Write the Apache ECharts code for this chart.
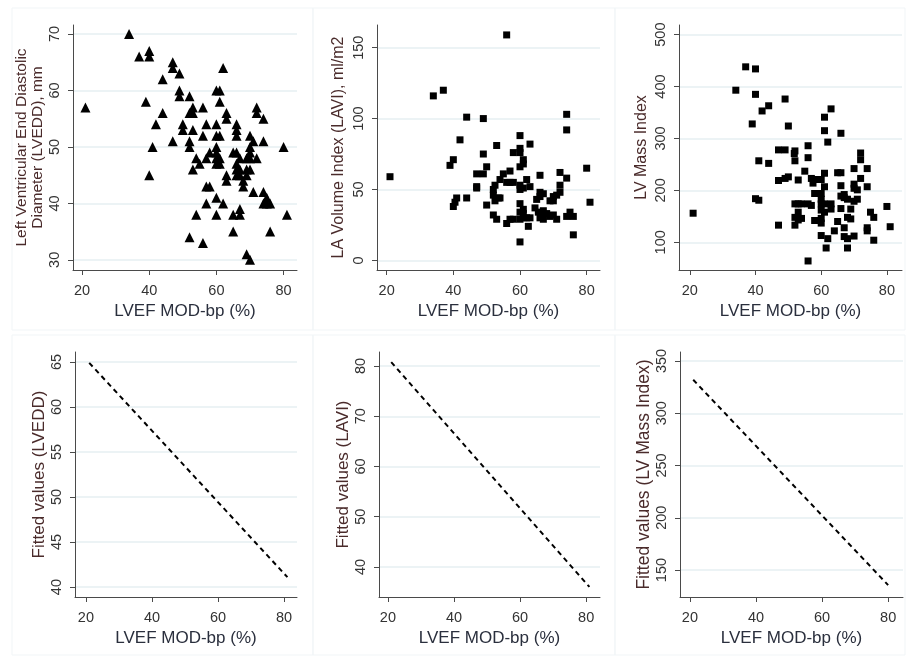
<!DOCTYPE html>
<html>
<head>
<meta charset="utf-8">
<script src="https://cdn.jsdelivr.net/npm/echarts@6/dist/echarts.min.js"></script>
<style>
  html, body { margin: 0; padding: 0; background: #fff; }
  #chart { width: 908px; height: 658px; }
</style>
</head>
<body>
<div id="chart"></div>
<script>
// LVEF (x) vs LVEDD
var lvefA = [34, 37, 40, 40, 39, 44, 42, 44, 41, 40, 47, 47, 49, 49, 49, 50, 50, 47, 52, 52, 53, 53, 52, 52, 53, 56, 56, 57, 54, 55, 53, 58, 57, 57, 58, 57, 54, 52, 56, 60, 60, 61, 60, 60, 60, 60, 61, 61, 60, 61, 61, 62, 60, 62, 60, 63, 63, 63, 63, 65, 65, 66, 66, 66, 65, 66, 66, 66, 66, 67, 67, 67, 68, 67, 67, 69, 69, 68, 69, 70, 70, 70, 69, 70, 70, 70, 72, 72, 71, 72, 71, 74, 74, 74, 75, 75, 74, 76, 76, 80, 81, 21]
var lvedd = [70, 66, 67, 66, 58, 62, 54, 56, 50, 45, 65, 64, 63, 60, 59, 54, 53, 51, 59, 56, 57, 56, 51, 50, 53, 57, 52, 54, 48, 47, 46, 49, 48, 43, 43, 40, 38, 34, 33, 54, 52, 52, 50, 49, 48, 47, 48, 47, 60, 60, 58, 64, 41, 40, 38, 55, 56, 45, 44, 35, 38, 54, 53, 52, 49, 49, 47, 46, 45, 48, 46, 45, 44, 39, 38, 45, 46, 43, 31, 30, 50, 49, 48, 48, 52, 46, 57, 56, 51, 48, 42, 55, 51, 42, 41, 40, 40, 40, 35, 50, 38, 57]

// LVEF (x) vs LAVI
var lvefB = [21, 34, 37, 44, 49, 56, 42, 60, 74, 74, 53, 63, 60, 60, 58, 49, 61, 61, 40, 39, 50, 60, 47, 49, 55, 57, 66, 72, 74, 80, 54, 52.5, 52, 56, 57, 58, 62, 60, 60, 61, 63, 66, 67, 66, 65, 70, 71, 72, 69, 70, 47, 47, 52, 52.5, 53.5, 54, 44, 41, 40.5, 40, 50, 60, 81, 52, 53, 56, 57, 58, 60, 60, 61, 62, 63, 61, 62.5, 60, 64.5, 65.5, 67, 67, 68, 69, 70, 71, 75, 76, 74, 76, 66, 67, 72, 61]
var lavi = [59, 116, 120, 101, 100, 159, 85, 88, 92, 103, 81, 82, 79, 76, 76, 75, 71, 68, 71, 67, 66, 66, 61, 61, 61, 63, 60, 62, 58, 65, 57, 53, 50, 55, 55, 55, 57, 53, 50, 51, 52, 48, 47, 45, 43, 45, 46, 48, 42, 42, 51, 52, 46, 42, 44, 44, 44, 44, 41, 38, 39, 40, 41, 32, 29, 26, 29, 29, 34, 29, 30, 30, 30, 36, 24, 13, 37, 34, 35, 31, 33, 31, 32, 29, 34, 31, 31, 18, 30, 29, 53, 33]

// LVEF (x) vs LV mass index
var lvefC = [21, 34, 37, 40, 40, 39, 42, 44, 49, 50, 40, 41, 41, 44, 47, 49, 47, 49, 50, 47, 52, 52, 53, 55, 56, 56, 52, 53, 54, 53, 54, 53, 52, 52, 56, 57, 57, 57.5, 58, 58, 58, 56, 60, 61, 60, 60, 60, 61, 61, 60, 60, 60, 61, 60, 61, 61, 62, 63, 63, 63, 61.5, 62, 65, 66, 66, 66, 66, 67, 67, 68, 66, 65, 64, 67, 67, 68, 68, 69, 69, 68, 70, 70, 70, 71, 71, 70, 70, 72, 72, 72, 74, 74, 74, 74, 75, 76, 76, 80, 81, 51.8]
var lvmi = [156, 393, 438, 434, 385, 328, 353, 363, 376, 324, 184, 181, 257, 252, 278, 278, 219, 223, 226, 133, 276, 257, 220, 237, 286, 263, 174, 174, 174, 158, 146, 143, 133, 148, 174, 171, 223, 214, 221, 194, 142, 64, 221, 233, 194, 183, 174, 174, 207, 162, 146, 137, 158, 113, 341, 315, 293, 357, 174, 164, 89, 107, 234, 234, 310, 209, 189, 192, 186, 183, 165, 140, 122, 128, 111, 107, 148, 145, 164, 89, 242, 212, 204, 201, 183, 179, 112, 272, 259, 223, 242, 207, 128, 122, 158, 148, 104, 169, 130, 271]

// linear fits (end points)
var fitXA = [21, 81]
var fitLvedd = [64.9, 41.1]
var fitXB = [21, 81]
var fitLavi = [80.8, 36.0]
var fitXC = [21, 80]
var fitLvmi = [332, 135.6]

// tick labels
var xTicks = [20, 40, 60, 80]
var yTicksLvedd = [30, 40, 50, 60, 70]
var yTicksLavi = [0, 50, 100, 150]
var yTicksLvmi = [100, 200, 300, 400, 500]
var yTicksFitLvedd = [40, 45, 50, 55, 60, 65]
var yTicksFitLavi = [40, 50, 60, 70, 80]
var yTicksFitLvmi = [150, 200, 250, 300, 350]

var xTitle = 'LVEF MOD-bp (%)'
var FONT = '"Liberation Sans", Arial, sans-serif'

function zip (xs, ys) {
  return xs.map(function (x, i) { return [x, ys[i]] })
}

var panels = [
  { grid: { left: 73, top: 25, width: 224, height: 245 }, x: [17.3, 84], y: [28.2, 71.6], yTicks: yTicksLvedd,
    yName: 'Left Ventricular End Diastolic\nDiameter (LVEDD), mm', yNameSize: 15.5, yGap: 16 },
  { grid: { left: 377, top: 25, width: 223, height: 245 }, x: [17.1, 84], y: [-6.8, 166], yTicks: yTicksLavi,
    yName: 'LA Volume Index (LAVI), ml/m2', yNameSize: 16, yGap: 30 },
  { grid: { left: 679, top: 25, width: 223, height: 245 }, x: [16.7, 84.6], y: [46.6, 518.6], yTicks: yTicksLvmi,
    yName: 'LV Mass Index', yNameSize: 16, yGap: 29 },
  { grid: { left: 75, top: 352, width: 222, height: 245 }, x: [16.7, 83.9], y: [38.9, 66.1], yTicks: yTicksFitLvedd,
    yName: 'Fitted values (LVEDD)', yNameSize: 17, yGap: 25 },
  { grid: { left: 379, top: 352, width: 221, height: 245 }, x: [17.3, 84.2], y: [34.0, 82.8], yTicks: yTicksFitLavi,
    yName: 'Fitted values (LAVI)', yNameSize: 17, yGap: 25 },
  { grid: { left: 680, top: 352, width: 223, height: 245 }, x: [17, 84.5], y: [124.2, 358.6], yTicks: yTicksFitLvmi,
    yName: 'Fitted values (LV Mass Index)', yNameSize: 17.5, yGap: 19 }
]

var axisLine = { show: true, onZero: false, lineStyle: { color: '#4a4a4a', width: 1 } }
var axisTick = { show: true, length: 5, lineStyle: { color: '#4a4a4a' } }

var grids = []
var xAxes = []
var yAxes = []
panels.forEach(function (p, i) {
  grids.push(Object.assign({ containLabel: false }, p.grid))
  xAxes.push({
    type: 'value', gridIndex: i, min: p.x[0], max: p.x[1],
    axisLine: axisLine,
    axisTick: Object.assign({ customValues: xTicks }, axisTick),
    axisLabel: { customValues: xTicks, margin: 13, fontSize: 14.5, color: '#333', fontFamily: FONT },
    splitLine: { show: false },
    name: xTitle, nameLocation: 'middle', nameGap: 33,
    nameTextStyle: { fontSize: 17, color: '#2a2f3d', fontFamily: FONT }
  })
  yAxes.push({
    type: 'value', gridIndex: i, min: p.y[0], max: p.y[1],
    axisLine: axisLine,
    axisTick: Object.assign({ customValues: p.yTicks }, axisTick),
    axisLabel: { customValues: p.yTicks, rotate: 90, margin: 11, fontSize: 14.5, color: '#333', fontFamily: FONT },
    splitLine: { show: true, lineStyle: { color: '#e6eff2', width: 1.5 } },
    name: p.yName, nameLocation: 'middle', nameGap: p.yGap,
    nameTextStyle: { fontSize: p.yNameSize, color: '#4a2b2b', fontFamily: FONT, lineHeight: p.yNameSize + 1, align: 'center' }
  })
})

var scatterBase = { type: 'scatter', itemStyle: { color: '#000', opacity: 1 }, silent: true }
var fitBase = {
  type: 'line', showSymbol: false, silent: true,
  lineStyle: { color: '#000', width: 2, type: [5, 4] }
}

var series = [
  Object.assign({ xAxisIndex: 0, yAxisIndex: 0, symbol: 'triangle', symbolSize: 10, data: zip(lvefA, lvedd) }, scatterBase),
  Object.assign({ xAxisIndex: 1, yAxisIndex: 1, symbol: 'rect', symbolSize: 7, data: zip(lvefB, lavi) }, scatterBase),
  Object.assign({ xAxisIndex: 2, yAxisIndex: 2, symbol: 'rect', symbolSize: 7, data: zip(lvefC, lvmi) }, scatterBase),
  Object.assign({ xAxisIndex: 3, yAxisIndex: 3, data: zip(fitXA, fitLvedd) }, fitBase),
  Object.assign({ xAxisIndex: 4, yAxisIndex: 4, data: zip(fitXB, fitLavi) }, fitBase),
  Object.assign({ xAxisIndex: 5, yAxisIndex: 5, data: zip(fitXC, fitLvmi) }, fitBase)
]

// faint frames around each sub-graph
var frames = []
var cols = [[12, 313], [313, 615], [615, 905]]
var rows = [[8, 330], [335, 655]]
rows.forEach(function (r) {
  cols.forEach(function (c) {
    frames.push({
      type: 'rect', silent: true, z: -1,
      shape: { x: c[0], y: r[0], width: c[1] - c[0], height: r[1] - r[0] },
      style: { fill: 'none', stroke: '#f1f5f7', lineWidth: 1 }
    })
  })
})

var chart = echarts.init(document.getElementById('chart'), null, { renderer: 'canvas' })
chart.setOption({
  backgroundColor: '#fff',
  animation: false,
  textStyle: { fontFamily: FONT },
  graphic: frames,
  grid: grids,
  xAxis: xAxes,
  yAxis: yAxes,
  series: series
})
</script>
</body>
</html>
